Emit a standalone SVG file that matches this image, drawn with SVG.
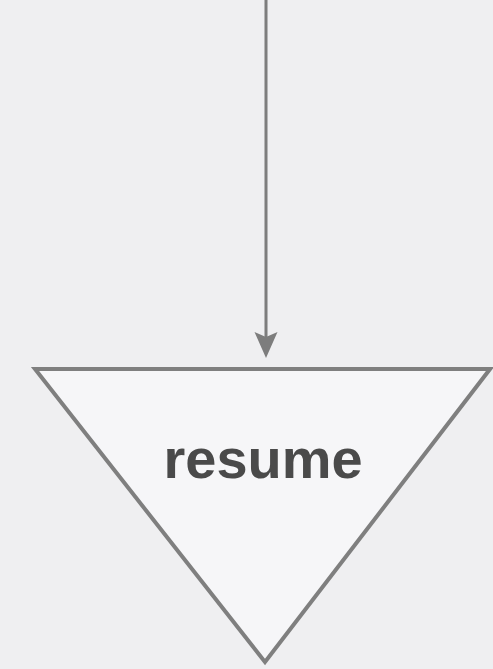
<svg xmlns="http://www.w3.org/2000/svg" width="493" height="669" viewBox="0 0 493 669">
  <defs>
    <style>
      .edge { stroke: #7d7d7d; stroke-width: 3; fill: none; }
      .head { fill: #7d7d7d; }
      .node { fill: #f6f6f8; stroke: #7f7f7f; stroke-width: 4; stroke-linejoin: miter; }
      .label { font-family: "Liberation Sans", Arial, sans-serif; font-weight: bold; font-size: 56px; fill: #4a4a4a; text-anchor: middle; }
    </style>
  </defs>
  <rect width="493" height="669" fill="#efeff1"/>
  <g id="connectors">
    <line class="edge" x1="266" y1="0" x2="266" y2="340"/>
    <polygon class="head" points="254.5,332 266,337 277.5,332 266,358"/>
  </g>
  <g id="resume">
    <polygon class="node" points="35,369 490,369 265,662"/>
    <text class="label" x="263" y="478" textLength="199" lengthAdjust="spacingAndGlyphs">resume</text>
  </g>
</svg>
